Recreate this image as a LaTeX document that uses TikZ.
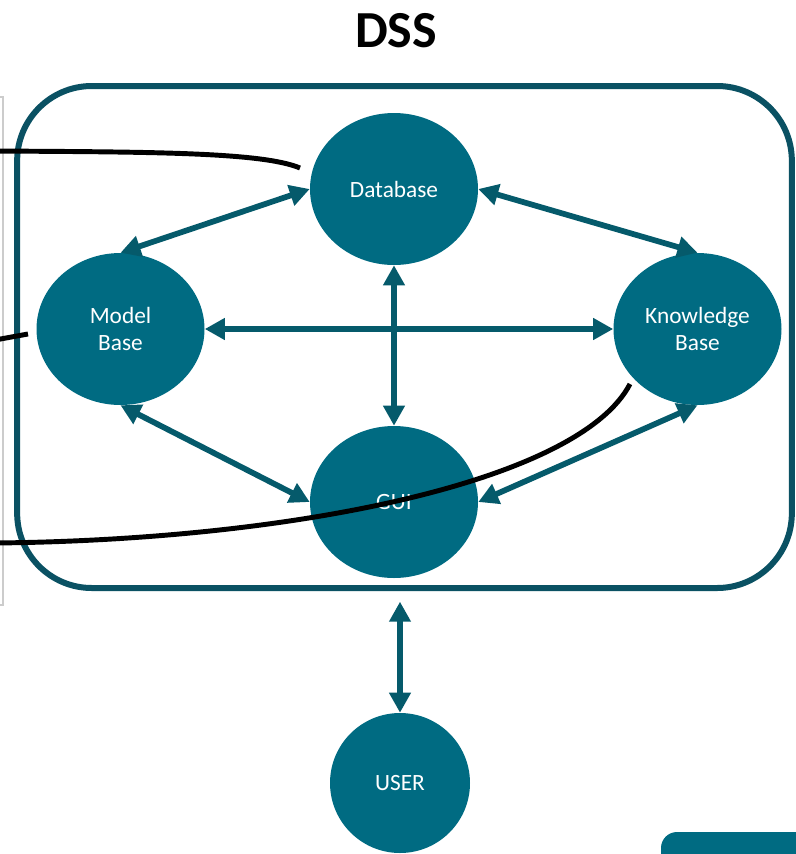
\documentclass[tikz,border=0pt]{standalone}
\usepackage{fontspec}
\setmainfont{Carlito}
\usetikzlibrary{positioning,arrows.meta,shapes.geometric}

\definecolor{dssteal}{HTML}{006B82}
\definecolor{dssarrow}{HTML}{055A6B}
\definecolor{dssframe}{HTML}{0A5163}

\begin{document}
\begin{tikzpicture}[x=0.75pt, y=-0.75pt,
    every node/.style={align=center, font=\fontsize{17.5}{20.5}\selectfont},
    part/.style={ellipse, fill=dssteal, text=white, minimum width=126pt, minimum height=114pt, inner sep=0pt},
    person/.style={circle, fill=dssteal, text=white, minimum size=105pt, inner sep=0pt},
    link/.style={draw=dssarrow, line width=4.3pt, {Triangle[length=15pt, width=15.5pt]}-{Triangle[length=15pt, width=15.5pt]}},
    ink/.style={draw=black, line width=3.7pt}]
    \useasboundingbox (0,0) rectangle (796,854);
    \clip (0,0) rectangle (796,854);

    \node (Title) [font=\fontsize{39}{40}\selectfont\bfseries] at (396,31) {DSS};
    \node (Frame) [draw=dssframe, line width=4.5pt, rounded corners=56pt, minimum width=581pt, minimum height=376.5pt] at (404.5,337) {};

    \node (Database) [part] at (394,189) {Database};
    \node (ModelBase) [part] at (120.5,329) {Model\\Base};
    \node (KnowledgeBase) [part] at (697.5,329) {Knowledge\\Base};
    \node (GUI) [part] at (394,502) {GUI};
    \node (USER) [person] at (400,783) {USER};

    \draw[link] (Database.west) -- (ModelBase.north);
    \draw[link] (Database.east) -- (KnowledgeBase.north);
    \draw[link] (ModelBase.east) -- (KnowledgeBase.west);
    \draw[link] (Database.south) -- (GUI.north);
    \draw[link] (ModelBase.south) -- (GUI.west);
    \draw[link] (KnowledgeBase.south) -- (GUI.east);
    \draw[link, shorten <=8pt] (Frame.south -| USER.north) -- (USER.north);

    % page edge bits
    \draw[gray!40, line width=1.2pt] (0,97) -- (3,97) -- (3,605) -- (0,605);
    \fill[dssteal, rounded corners=12pt] (661,832) rectangle (840,900);

    % ink strokes
    \coordinate (InkA) at (-5,151);
    \coordinate (InkB) at (300,168);
    \coordinate (InkC) at (-5,340);
    \coordinate (InkD) at (28,334);
    \coordinate (InkE) at (-5,543);
    \coordinate (InkF) at (630,384);
    \draw[ink] (InkA) .. controls (150,152) and (262,152) .. (InkB);
    \draw[ink] (InkC) -- (InkD);
    \draw[ink] (InkE) .. controls (300,540) and (580,480) .. (InkF);
\end{tikzpicture}
\end{document}
